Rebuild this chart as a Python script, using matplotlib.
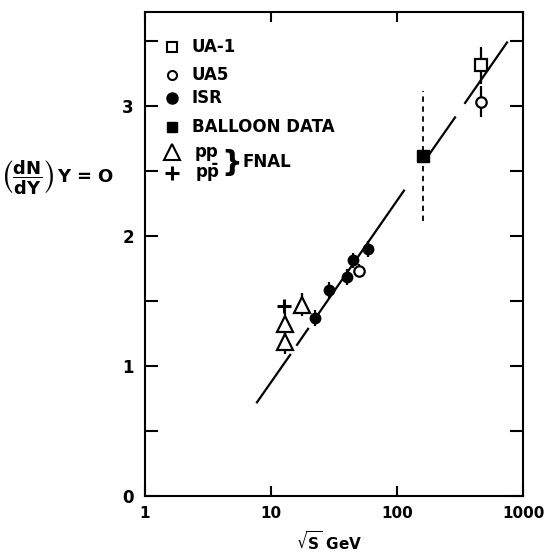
import matplotlib
matplotlib.use("Agg")
import matplotlib.pyplot as plt
from matplotlib.ticker import FixedLocator, NullLocator

plt.rcParams["font.family"] = ["DejaVu Sans"]
plt.rcParams["font.weight"] = "bold"
plt.rcParams["mathtext.fontset"] = "dejavusans"

# data (sqrt(s) in GeV, dN/dY at Y=0)
ua1_x = [460]
ua1_y = [3.31]
ua1_err = [0.14]

ua5_x = [50, 460]
ua5_y = [1.73, 3.03]
ua5_err = [0.05, 0.12]

isr_x = [22.4, 28.9, 40.1, 44.8, 58.9]
isr_y = [1.37, 1.585, 1.685, 1.81, 1.90]
isr_err = [0.06, 0.06, 0.06, 0.06, 0.06]

balloon_x = [161]
balloon_y = [2.61]
balloon_err = [0.5]

fnal_pp_x = [12.9, 12.9, 17.6]
fnal_pp_y = [1.18, 1.32, 1.47]
fnal_pp_err = [0.09, 0.09, 0.09]

fnal_ppbar_x = [12.7]
fnal_ppbar_y = [1.46]

# straight line, drawn in pieces (gaps left around the points)
fit_x = [7.74, 14.2, 16.1, 19.7, 21.5, 113.6, 173, 289, 347, 746]
fit_y = [0.72, 1.085, 1.162, 1.285, 1.339, 2.347, 2.601, 2.910, 3.021, 3.485]

legend_labels = ["UA-1", "UA5", "ISR", "BALLOON DATA", "pp", r"p$\mathbf{\bar{p}}$"]
legend_ypos = [0.928, 0.870, 0.822, 0.762, 0.711, 0.667]

fig = plt.figure(figsize=(5.44, 5.57), dpi=100)
ax = fig.add_axes([0.2665, 0.1095, 0.6949, 0.869])

lw = 1.6
for i in range(0, len(fit_x), 2):
    ax.plot(fit_x[i:i + 2], fit_y[i:i + 2], color="black", lw=lw, zorder=1)

ax.errorbar(isr_x, isr_y, yerr=isr_err, fmt="o", color="black", ms=7.5,
            elinewidth=lw, capsize=0, zorder=3)
ax.errorbar(ua5_x, ua5_y, yerr=ua5_err, fmt="o", color="black", ms=7.5,
            mfc="white", mew=lw, elinewidth=lw, capsize=0, zorder=3)
ax.errorbar(ua1_x, ua1_y, yerr=ua1_err, fmt="s", color="black", ms=8,
            mfc="white", mew=lw, elinewidth=lw, capsize=0, zorder=3)
eb = ax.errorbar(balloon_x, balloon_y, yerr=balloon_err, fmt="s", color="black",
                 ms=8.5, elinewidth=1.3, capsize=0, zorder=3)
for c in eb[2]:
    c.set_linestyle((0, (3, 2.5)))
ax.errorbar(fnal_pp_x, fnal_pp_y, yerr=fnal_pp_err, fmt="^", color="black",
            ms=12, mfc="white", mew=lw, elinewidth=lw, capsize=0, zorder=2)
ax.plot(fnal_ppbar_x, fnal_ppbar_y, "+", color="black", ms=10, mew=2.2, zorder=3)

# hand drawn key
leg_x = 0.0714
txt_x = 0.124
ax.plot([leg_x], [legend_ypos[0]], "s", ms=6.5, mfc="white", mec="black",
        mew=1.5, transform=ax.transAxes, clip_on=False)
ax.plot([leg_x], [legend_ypos[1]], "o", ms=6.5, mfc="white", mec="black",
        mew=1.5, transform=ax.transAxes, clip_on=False)
ax.plot([leg_x], [legend_ypos[2]], "o", ms=8, color="black",
        transform=ax.transAxes, clip_on=False)
ax.plot([leg_x], [legend_ypos[3]], "s", ms=7.5, color="black",
        transform=ax.transAxes, clip_on=False)
ax.plot([leg_x], [legend_ypos[4]], "^", ms=11, mfc="white", mec="black",
        mew=1.5, transform=ax.transAxes, clip_on=False)
ax.plot([leg_x], [legend_ypos[5]], "+", ms=10, color="black", mew=2.2,
        transform=ax.transAxes, clip_on=False)
for i, lab in enumerate(legend_labels):
    x = txt_x if i < 4 else 0.132
    ax.text(x, legend_ypos[i], lab, transform=ax.transAxes, fontsize=12,
            fontweight="bold", va="center", ha="left")
ax.text(0.203, 0.689, "}", transform=ax.transAxes, fontsize=21,
        va="center", ha="left")
ax.text(0.259, 0.690, "FNAL", transform=ax.transAxes, fontsize=12,
        fontweight="bold", va="center", ha="left")

ax.set_xscale("log")
ax.set_xlim(1, 1000)
ax.set_ylim(0, 3.72)
ax.xaxis.set_major_locator(FixedLocator([1, 10, 100, 1000]))
ax.xaxis.set_minor_locator(NullLocator())
ax.set_xticklabels(["1", "10", "100", "1000"])
ax.yaxis.set_major_locator(FixedLocator([0, 1, 2, 3]))
ax.yaxis.set_minor_locator(FixedLocator([0.5, 1.5, 2.5, 3.5]))
ax.set_yticklabels(["0", "1", "2", "3"])

ax.tick_params(axis="x", which="both", direction="in", length=7, width=1.5,
               top=True, pad=7, labelsize=11)
ax.tick_params(axis="y", which="both", direction="in", length=9.5, width=1.5,
               right=True, pad=8, labelsize=12)
for lab in ax.get_xticklabels() + ax.get_yticklabels():
    lab.set_fontweight("bold")
for sp in ax.spines.values():
    sp.set_linewidth(1.5)

fig.text(0.004, 0.682, r"$\left(\dfrac{\mathbf{dN}}{\mathbf{dY}}\right)\,$Y = O",
         fontsize=13, fontweight="bold", ha="left", va="center")
fig.text(0.605, 0.027, r"$\mathbf{\sqrt{S}}$ GeV", fontsize=11,
         fontweight="bold", ha="center", va="center")

fig.savefig("out.png", dpi=100)
